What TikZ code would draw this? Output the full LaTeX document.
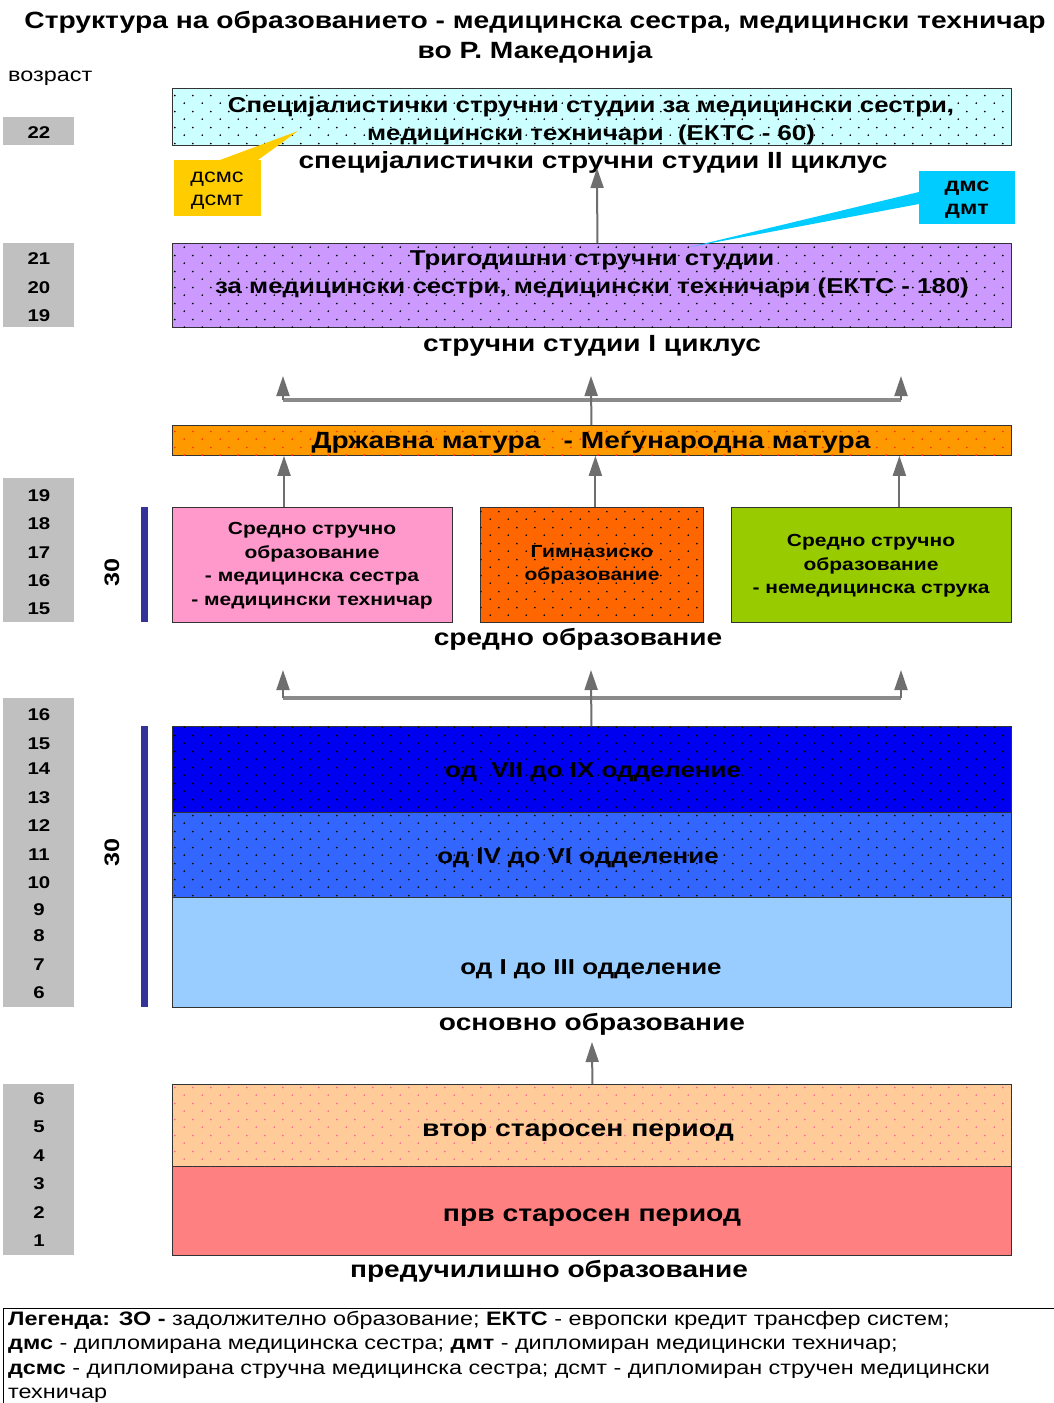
\documentclass[tikz,border=0pt]{standalone}
\usepackage{fontspec}
\setmainfont{Liberation Sans}[FakeStretch=1.2]
\usetikzlibrary{patterns.meta,arrows.meta}

\definecolor{agegray}{HTML}{C0C0C0}
\definecolor{cyanbox}{HTML}{CCFFFF}
\definecolor{purplebox}{HTML}{CC99FF}
\definecolor{maturabox}{HTML}{FF9900}
\definecolor{pinkbox}{HTML}{FF99CC}
\definecolor{gymnbox}{HTML}{FF6600}
\definecolor{greenbox}{HTML}{99CC00}
\definecolor{dkblue}{HTML}{0000F0}
\definecolor{midblue}{HTML}{3366FF}
\definecolor{ltblue}{HTML}{99CCFF}
\definecolor{peach}{HTML}{FFCC99}
\definecolor{salmon}{HTML}{FF8080}
\definecolor{barblue}{HTML}{333399}
\definecolor{ycall}{HTML}{FFCC00}
\definecolor{ccall}{HTML}{00CCFF}
\definecolor{arrgray}{HTML}{6E6E6E}
\definecolor{treegray}{HTML}{8A8A8A}
\definecolor{reddot}{HTML}{FF3300}
\definecolor{pinkdot}{HTML}{FF6699}

\newcommand\fs[2]{\fontsize{#1}{#2}\selectfont}

\pgfdeclarepattern{
  name=sdots,
  type=uncolored,
  bottom left={\pgfpoint{0pt}{0pt}},
  top right={\pgfpoint{18pt}{16pt}},
  tile size={\pgfpoint{18pt}{16pt}},
  code={
    \pgfpathcircle{\pgfpoint{4.5pt}{4pt}}{1pt}
    \pgfpathcircle{\pgfpoint{13.5pt}{12pt}}{1pt}
    \pgfusepath{fill}
  }
}

\tikzset{
  blk/.style={draw=black!80, line width=0.8pt, inner sep=0pt, anchor=north west},
  dotfill/.style={postaction={pattern=sdots, pattern color=#1}},
  agebox/.style={fill=agegray, inner sep=0pt, anchor=north west, minimum width=71},
  agenum/.style={font=\fs{17}{17}\bfseries, anchor=base},
  lbl/.style={font=\fs{23.4}{23.4}\bfseries, anchor=base},
  boxtxt/.style={font=\fs{21.5}{28}\bfseries, align=center, inner sep=0pt},
  smalltxt/.style={font=\fs{17.5}{23.5}\bfseries, align=center, inner sep=0pt},
  arr/.style={draw=arrgray, line width=2pt, -{Triangle[length=20pt,width=13pt]}},
  tree/.style={draw=treegray, line width=4pt},
  zbar/.style={fill=barblue, inner sep=0pt, anchor=north west, minimum width=7},
  zlbl/.style={font=\fs{21}{21}\bfseries, rotate=90, inner sep=0pt},
  legline/.style={font=\fs{19.5}{19.5}, anchor=base west, inner sep=0pt},
}

\begin{document}
\begin{tikzpicture}[x=1pt,y=-1pt]
\useasboundingbox[fill=white] (0,0) rectangle (1054,1403);

% title
\node[font=\fs{23.5}{23.5}\bfseries, anchor=base] (title1) at (535,28) {Структура на образованието - медицинска сестра, медицински техничар};
\node[font=\fs{23.5}{23.5}\bfseries, anchor=base] (title2) at (535,58) {во Р. Македонија};
\node[font=\fs{19.5}{19.5}, anchor=base west, inner sep=0pt] (vozrast) at (8,81) {возраст};

% age boxes
\node[agebox, minimum height=28] (age22) at (3,117) {};
\node[agebox, minimum height=84] (age19a) at (3,243) {};
\node[agebox, minimum height=144] (age15) at (3,478) {};
\node[agebox, minimum height=309] (age6) at (3,698) {};
\node[agebox, minimum height=171] (age1) at (3,1084) {};

\node[agenum] (n22) at (39,138) {22};
\node[agenum] (n21) at (39,264) {21};
\node[agenum] (n20) at (39,293) {20};
\node[agenum] (n19a) at (39,321) {19};
\node[agenum] (n19b) at (39,501) {19};
\node[agenum] (n18) at (39,529) {18};
\node[agenum] (n17) at (39,558) {17};
\node[agenum] (n16a) at (39,586) {16};
\node[agenum] (n15a) at (39,614) {15};
\node[agenum] (n16b) at (39,720) {16};
\node[agenum] (n15b) at (39,749) {15};
\node[agenum] (n14) at (39,774) {14};
\node[agenum] (n13) at (39,803) {13};
\node[agenum] (n12) at (39,831) {12};
\node[agenum] (n11) at (39,860) {11};
\node[agenum] (n10) at (39,888) {10};
\node[agenum] (n9) at (39,915) {9};
\node[agenum] (n8) at (39,941) {8};
\node[agenum] (n7) at (39,970) {7};
\node[agenum] (n6a) at (39,998) {6};
\node[agenum] (n6b) at (39,1104) {6};
\node[agenum] (n5) at (39,1132) {5};
\node[agenum] (n4) at (39,1161) {4};
\node[agenum] (n3) at (39,1189) {3};
\node[agenum] (n2) at (39,1218) {2};
\node[agenum] (n1) at (39,1246) {1};

% top: specialist studies
\node[blk, fill=cyanbox, dotfill=black, minimum width=839, minimum height=57] (spec) at (172,88) {};
\node[boxtxt] (spectxt) at (591,121) {Специјалистички стручни студии за медицински сестри,\\медицински техничари\ \ (ЕКТС - 60)};
\node[lbl] (speclbl) at (593,168) {специјалистички стручни студии II циклус};

% three-year studies
\node[blk, fill=purplebox, dotfill=black, minimum width=839, minimum height=84] (tri) at (172,243) {};
\node[boxtxt] (tritxt) at (592,274) {Тригодишни стручни студии\\за медицински сестри, медицински техничари (ЕКТС - 180)};
\node[lbl] (trilbl) at (592,351) {стручни студии I циклус};

% arrow tri -> spec label
\coordinate (spectip) at (597,168);
\draw[arr] ([xshift=5.5pt]tri.north) -- (spectip);

% callouts
\node[fill=ycall, inner sep=0pt, anchor=north west, minimum width=87, minimum height=56] (ycallout) at (174,160) {};
\node[font=\fs{19.5}{23}, align=center, inner sep=0pt] (ycalltxt) at (217,190.5) {дсмс\\дсмт};
\coordinate (ytip) at (298,131);
\fill[ycall] ([xshift=46pt]ycallout.north west) -- (ytip) -- ([xshift=84pt]ycallout.north west) -- cycle;

\node[fill=ccall, inner sep=0pt, anchor=north west, minimum width=96, minimum height=53] (ccallout) at (919,171) {};
\node[font=\fs{19.5}{23}\bfseries, align=center, inner sep=0pt] (ccalltxt) at (967,200) {дмс\\дмт};
\coordinate (ctip) at (690,247);
\fill[ccall] ([yshift=-21pt]ccallout.north west) -- (ctip) -- ([yshift=-33pt]ccallout.north west) -- cycle;

% matura
\node[blk, fill=maturabox, dotfill=reddot, minimum width=839, minimum height=30] (matura) at (172,425) {};
\node[lbl] (maturatxt) at (591,448) {Државна матура\ \ \ - Меѓународна матура};

% tree above matura
\coordinate (t1l) at (283,400);
\coordinate (t1r) at (901,400);
\coordinate (t1lt) at (283,376);
\coordinate (t1rt) at (901,376);
\coordinate (t1mt) at (591,376);
\draw[tree] (t1l) -- (t1r);
\draw[arr] (t1l) -- (t1lt);
\draw[arr] (t1r) -- (t1rt);
\draw[arr] ([xshift=-0.5pt]matura.north) -- (t1mt);

% secondary boxes
\node[blk, fill=pinkbox, minimum width=280, minimum height=115] (pink) at (172,507) {};
\node[blk, fill=gymnbox, dotfill=black, minimum width=223, minimum height=115] (gymn) at (480,507) {};
\node[blk, fill=greenbox, minimum width=280, minimum height=115] (green) at (731,507) {};
\node[smalltxt] (pinktxt) at (312,565.5) {Средно стручно\\образование\\- медицинска сестра\\- медицински техничар};
\node[smalltxt] (gymntxt) at (592,565) {Гимназиско\\образование};
\node[smalltxt] (greentxt) at (871,566) {Средно стручно\\образование\\- немедицинска струка};
\node[lbl] (seclbl) at (578,645) {средно образование};

\draw[arr] ([xshift=112pt]pink.north west) -- ([xshift=112pt]matura.south west);
\draw[arr] ([xshift=3.5pt]gymn.north) -- ([xshift=3.5pt]matura.south);
\draw[arr] ([xshift=28pt]green.north) -- ([xshift=28pt]matura.south -| green.north);

\node[zbar, minimum height=115] (bar1) at (141,507) {};
\node[zlbl] (zo1) at (112,572) {30};

% tree above basic
\coordinate (t2l) at (283,698);
\coordinate (t2r) at (901,698);
\coordinate (t2lt) at (283,670);
\coordinate (t2rt) at (901,670);
\coordinate (t2mt) at (591,670);
\draw[tree] (t2l) -- (t2r);
\draw[arr] (t2l) -- (t2lt);
\draw[arr] (t2r) -- (t2rt);

% basic education
\node[blk, fill=ltblue, minimum width=839, minimum height=110] (basic3) at (172,897) {};
\node[blk, fill=midblue, dotfill=black, minimum width=839, minimum height=85] (basic2) at (172,812) {};
\node[blk, fill=dkblue, dotfill=black, minimum width=839, minimum height=86] (basic1) at (172,726) {};
\draw[arr] ([xshift=-0.5pt]basic1.north) -- (t2mt);
\node[boxtxt, font=\fs{21.6}{21.6}\bfseries] (b1txt) at (593,772) {од\ \ VII до IX одделение};
\node[boxtxt, font=\fs{21.6}{21.6}\bfseries] (b2txt) at (578,858) {од IV до VI одделение};
\node[boxtxt, font=\fs{21.6}{21.6}\bfseries] (b3txt) at (591,969) {од I до III одделение};
\node[lbl] (baslbl) at (592,1030) {основно образование};

\node[zbar, minimum height=281] (bar2) at (141,726) {};
\node[zlbl] (zo2) at (112,852) {30};

% preschool
\node[blk, fill=salmon, minimum width=839, minimum height=89] (pre1) at (172,1166) {};
\node[blk, fill=peach, dotfill=pinkdot, minimum width=839, minimum height=82] (pre2) at (172,1084) {};
\node[boxtxt, font=\fs{23.6}{23.6}\bfseries] (p2txt) at (578,1133) {втор старосен период};
\node[boxtxt, font=\fs{23.6}{23.6}\bfseries] (p1txt) at (592,1218) {прв старосен период};
\node[lbl] (prelbl) at (549,1277) {предучилишно образование};

\coordinate (basbot) at (592,1042);
\draw[arr] ([xshift=0.5pt]pre2.north) -- (basbot);

% legend
\node[draw=black, line width=0.8pt, anchor=north west, inner sep=0pt, minimum width=1060, minimum height=100] (legend) at (3,1308) {};
\node[legline] (leg1) at (8,1325) {\textbf{Легенда: ЗО -} задолжително образование; \textbf{ЕКТС} - европски кредит трансфер систем;};
\node[legline] (leg2) at (8,1349) {\textbf{дмс} - дипломирана медицинска сестра; \textbf{дмт} - дипломиран медицински техничар;};
\node[legline] (leg3) at (8,1374) {\textbf{дсмс} - дипломирана стручна медицинска сестра; дсмт - дипломиран стручен медицински};
\node[legline] (leg4) at (8,1398) {техничар};
\end{tikzpicture}
\end{document}
